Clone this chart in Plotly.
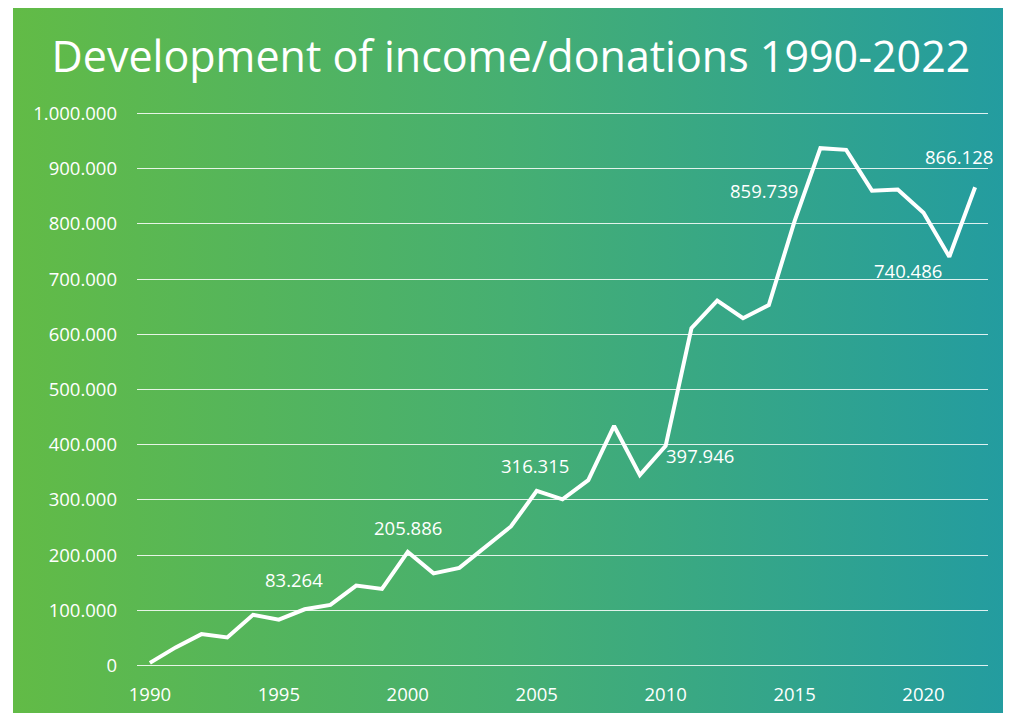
import base64
import plotly.graph_objects as go

years = list(range(1990, 2023))
income = [5000, 33000, 57000, 51000, 92000, 83264, 102000, 110000, 145000, 139000,
          205886, 167000, 177000, 215000, 252000, 316315, 301000, 336000, 434000, 345000,
          397946, 611000, 661000, 629000, 653000, 805000, 937000, 934000, 860000, 862000,
          820000, 740486, 866128]

label_years = [1995, 2000, 2005, 2010, 2015, 2021, 2022]
label_values = [83264, 205886, 316315, 397946, 859739, 740486, 866128]
label_shift_x = [15, 0, -2, 34, -31, -41, -16]
label_shift_y = [40, 24, 25, -10, 0, -14, 31]

xtick_vals = [1990, 1995, 2000, 2005, 2010, 2015, 2020]
ytick_vals = [0, 100000, 200000, 300000, 400000, 500000, 600000, 700000, 800000, 900000, 1000000]

# page body has an 8px margin, so the figure is drawn offset by (8, 8)
W, H = 1003, 705
L, R, T, B = 129, 23, 104, 46
pw, ph = W - L - R, H - T - B

svg = ('<svg xmlns="http://www.w3.org/2000/svg" width="1000" height="100" preserveAspectRatio="none" '
       'viewBox="0 0 1000 100"><defs><linearGradient id="g" x1="0" y1="0" x2="1" y2="0">'
       '<stop offset="0" stop-color="#62BB46"/><stop offset="0.5" stop-color="#46AF72"/>'
       '<stop offset="1" stop-color="#239CA0"/></linearGradient></defs>'
       '<rect x="0" y="0" width="1000" height="100" fill="url(#g)"/></svg>')
src = "data:image/svg+xml;base64," + base64.b64encode(svg.encode()).decode()

def fmt(v):
    return f"{v:,}".replace(",", ".")

fig = go.Figure()
fig.add_trace(go.Scatter(x=years, y=income, mode="lines",
                         line=dict(color="white", width=4), hoverinfo="x+y"))

font = "Open Sans"
anns = []
for yr, v, dx, dy in zip(label_years, label_values, label_shift_x, label_shift_y):
    anns.append(dict(x=yr, y=v, xref="x", yref="y", text=fmt(v), showarrow=False,
                     xshift=dx, yshift=dy, font=dict(family=font, size=18.5, color="white")))

bx0, bx1, by0, by1 = 5, 999, 0, 705
fig.update_layout(
    width=W, height=H,
    margin=dict(l=L, r=R, t=T, b=B),
    paper_bgcolor="white", plot_bgcolor="rgba(0,0,0,0)",
    separators=",.",
    showlegend=False,
    title=dict(text="Development of income/donations 1990-2022", x=503 / W, xanchor="center",
               y=1 - 49 / H, yanchor="middle", yref="container", automargin=False,
               font=dict(family=font, size=43, color="white")),
    images=[dict(source=src, xref="paper", yref="paper",
                 x=(bx0 - L) / pw, y=(H - B - by0) / ph,
                 sizex=(bx1 - bx0) / pw, sizey=(by1 - by0) / ph,
                 xanchor="left", yanchor="top", sizing="stretch", layer="below")],
    annotations=anns,
    xaxis=dict(range=[1989.5, 2022.5], tickvals=xtick_vals, showgrid=False, zeroline=False,
               showline=False, ticks="", ticklabelstandoff=14, automargin=False,
               tickfont=dict(family=font, size=18.5, color="white")),
    yaxis=dict(range=[-2500, 1002500], tickvals=ytick_vals, tickformat=",d", showgrid=True,
               gridcolor="rgba(255,255,255,0.85)", gridwidth=1, zeroline=False, showline=False,
               ticks="", ticklabelstandoff=19, automargin=False,
               tickfont=dict(family=font, size=18.5, color="white")),
)
fig.write_html("out.html")
